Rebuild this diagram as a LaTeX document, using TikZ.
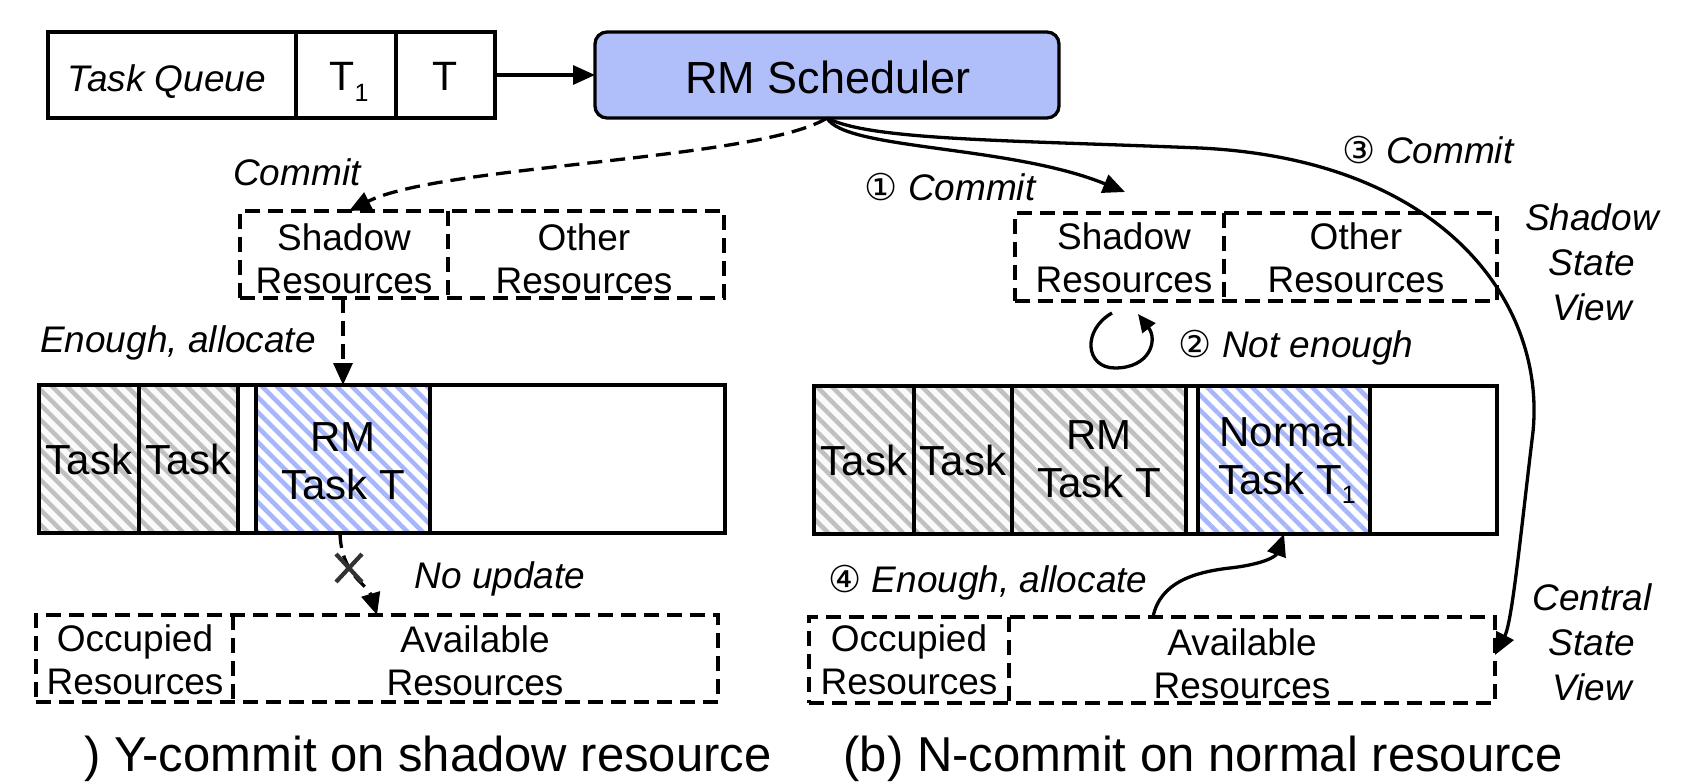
\documentclass[tikz,border=0pt]{standalone}
\usepackage{fontspec}
\setmainfont{Liberation Sans}
\newfontfamily\symf{DejaVu Sans}
\usetikzlibrary{patterns.meta,arrows.meta,shapes.misc}
\definecolor{rmblue}{RGB}{176,190,250}
\definecolor{hblue}{RGB}{165,182,250}
\definecolor{hgray}{RGB}{192,192,192}
\definecolor{hgbg}{RGB}{250,250,250}
\newcommand\cnum[1]{{\upshape\symf #1}}
\newcommand\subone[1]{\raisebox{-#1}{\fontsize{25}{25}\selectfont 1}}
\tikzset{
 bx/.style={inner sep=0pt, outer sep=0pt},
 solidbox/.style={bx, draw, line width=3.3pt},
 dbox/.style={bx, draw, line width=3.3pt, dash pattern=on 15pt off 8pt},
 dline/.style={line width=3.3pt, dash pattern=on 15pt off 8pt},
 hatch/.style={pattern={Lines[angle=-45,distance=10.6pt,line width=4.5pt]}},
 gcell/.style={solidbox, preaction={fill=hgbg}, hatch, pattern color=hgray, font=\fontsize{42}{48}\selectfont},
 bcell/.style={solidbox, preaction={fill=white}, hatch, pattern color=hblue},
 txt/.style={bx, font=\fontsize{37}{43}\selectfont, align=center},
 ttxt/.style={bx, font=\fontsize{42}{48}\selectfont, align=center},
 lbl/.style={bx, font=\fontsize{37}{45}\selectfont\itshape, align=center},
 arr/.style={line width=3.3pt, -{Triangle[length=22pt,width=19pt]}},
 darr/.style={arr, dash pattern=on 15pt off 8pt},
 sarr/.style={line width=3.3pt, -{Triangle[length=18pt,width=16pt]}},
}
\begin{document}
\begin{tikzpicture}[x=1pt,y=-1pt]
\useasboundingbox (0,0) rectangle (1700,784);
% task queue
\node[solidbox, minimum width=248pt, minimum height=86pt] (tqa) at (172,75) {};
\node[solidbox, minimum width=100pt, minimum height=86pt] (tqb) at (346,75) {};
\node[solidbox, minimum width=99pt, minimum height=86pt] (tqc) at (445.5,75) {};
\node[lbl, anchor=base] (tqt) at (167,92) {Task Queue};
\node[bx, font=\fontsize{41}{48}\selectfont, anchor=base] (t1) at (349,90) {T\subone{12pt}};
\node[bx, font=\fontsize{41}{48}\selectfont, anchor=base] (t0) at (445,90) {T};
% RM scheduler
\node[solidbox, rounded corners=12pt, fill=rmblue, minimum width=464pt, minimum height=86pt] (rm) at (827,75) {};
\node[bx, font=\fontsize{45}{54}\selectfont, anchor=base] (rmt) at (828,93) {RM Scheduler};
\draw[arr] (tqc.east) -- (rm.west);
% left shadow
\node[dbox, minimum width=484pt, minimum height=87pt] (lsh) at (482,254.5) {};
\coordinate (xl1) at (448,0);
\draw[dline] (lsh.north -| xl1) -- (lsh.south -| xl1);
\node[txt] (lshA) at (344,258.5) {Shadow\\Resources};
\node[txt] (lshB) at (584,258.5) {Other\\Resources};
% right shadow
\node[dbox, minimum width=482pt, minimum height=88pt] (rsh) at (1256,257) {};
\coordinate (xr1) at (1224,0);
\draw[dline] (rsh.north -| xr1) -- (rsh.south -| xr1);
\node[txt] (rshA) at (1124,257.5) {Shadow\\Resources};
\node[txt] (rshB) at (1356,257.5) {Other\\Resources};
\node[lbl] (ssv) at (1592,262) {Shadow\\State\\View};
% left bar
\node[solidbox, minimum width=686pt, minimum height=148pt] (lbar) at (382,459) {};
\node[gcell, minimum width=100pt, minimum height=148pt] (l1) at (89,459) {Task};
\node[gcell, minimum width=99pt, minimum height=148pt] (l2) at (188.5,459) {Task};
\node[bcell, minimum width=174pt, minimum height=148pt] (l3) at (343,459) {};
\node[ttxt] (l3t) at (343,461) {RM\\Task T};
% right bar
\node[solidbox, minimum width=683pt, minimum height=148pt] (rbar) at (1155.5,460) {};
\node[gcell, minimum width=100pt, minimum height=148pt] (r1) at (864,460) {Task};
\node[gcell, minimum width=98pt, minimum height=148pt] (r2) at (963,460) {Task};
\node[gcell, minimum width=174pt, minimum height=148pt] (r3) at (1099,460) {};
\node[ttxt] (r3t) at (1099,459) {RM\\Task T};
\node[bcell, minimum width=172pt, minimum height=148pt] (r4) at (1284,460) {};
\node[ttxt] (r4t) at (1287,460) {Normal\\Task T\subone{9pt}};
% bottom boxes
\node[dbox, minimum width=682pt, minimum height=87pt] (locc) at (377,658.5) {};
\coordinate (xl2) at (233,0);
\draw[dline] (locc.north -| xl2) -- (locc.south -| xl2);
\node[txt] (loccA) at (135,659.5) {Occupied\\Resources};
\node[txt] (loccB) at (475,660.5) {Available\\Resources};
\node[dbox, minimum width=686pt, minimum height=86pt] (rocc) at (1152,660) {};
\coordinate (xr2) at (1009,0);
\draw[dline] (rocc.north -| xr2) -- (rocc.south -| xr2);
\node[txt] (roccA) at (909,659.5) {Occupied\\Resources};
\node[txt] (roccB) at (1242,664) {Available\\Resources};
\node[lbl] (csv) at (1592,642) {Central\\State\\View};
% left connectors
\coordinate (cl) at (349,0);
\draw[darr] (rm.south) .. controls (760,160) and (440,165) .. (lsh.north -| cl);
\node[lbl, anchor=base] (lc) at (297,185) {Commit};
\coordinate (xe) at (343,0);
\draw[darr] (lsh.south -| xe) -- (lbar.north -| xe);
\node[lbl, anchor=base] (lea) at (178,352) {Enough, allocate};
\coordinate (xn1) at (340,0);
\coordinate (xn2) at (377,0);
\draw[darr] (lbar.south -| xn1) .. controls (341,575) and (368,585) .. (locc.north -| xn2);
\node[bx, cross out, draw=black!80, line width=4.2pt, minimum width=26pt, minimum height=28pt] (xm) at (349,568) {};
\node[lbl, anchor=base] (nu) at (500,588) {No update};
% (1)
\coordinate (c1e) at (1125,192);
\draw[arr] (rm.south) .. controls (845,150) and (1010,145) .. (c1e);
\node[lbl, anchor=base] (l1c) at (950,200) {\cnum{①} Commit};
% (3)
\coordinate (c3a) at (1200,148);
\coordinate (c3b) at (1532,440);
\coordinate (y3) at (0,655);
\draw[arr] (rm.south) .. controls (870,140) and (1000,140) .. (c3a) .. controls (1450,160) and (1550,310) .. (c3b) .. controls (1520,540) and (1512,622) .. (rocc.east |- y3);
\node[lbl, anchor=base] (l3c) at (1428,163) {\cnum{③} Commit};
% (2)
\coordinate (lp1) at (1112,313);
\coordinate (lpb) at (1115,368);
\coordinate (lp2) at (1138,314);
\draw[sarr] (lp1) .. controls (1082,330) and (1085,368) .. (lpb) .. controls (1150,368) and (1158,340) .. (lp2);
\node[lbl, anchor=base] (l2c) at (1296,357) {\cnum{②} Not enough};
% (4)
\coordinate (x4) at (1153,0);
\coordinate (c4m) at (1230,568);
\draw[arr] (rocc.north -| x4) .. controls (1160,582) and (1195,572) .. (c4m) .. controls (1265,564) and (1276,556) .. (r4.south);
\node[lbl, anchor=base] (l4c) at (988,592) {\cnum{④} Enough, allocate};
% captions
\node[bx, font=\fontsize{49}{58}\selectfont, anchor=base] (capa) at (428,771) {) Y-commit on shadow resource};
\node[bx, font=\fontsize{49}{58}\selectfont, anchor=base] (capb) at (1203,771) {(b) N-commit on normal resource};
\end{tikzpicture}
\end{document}
